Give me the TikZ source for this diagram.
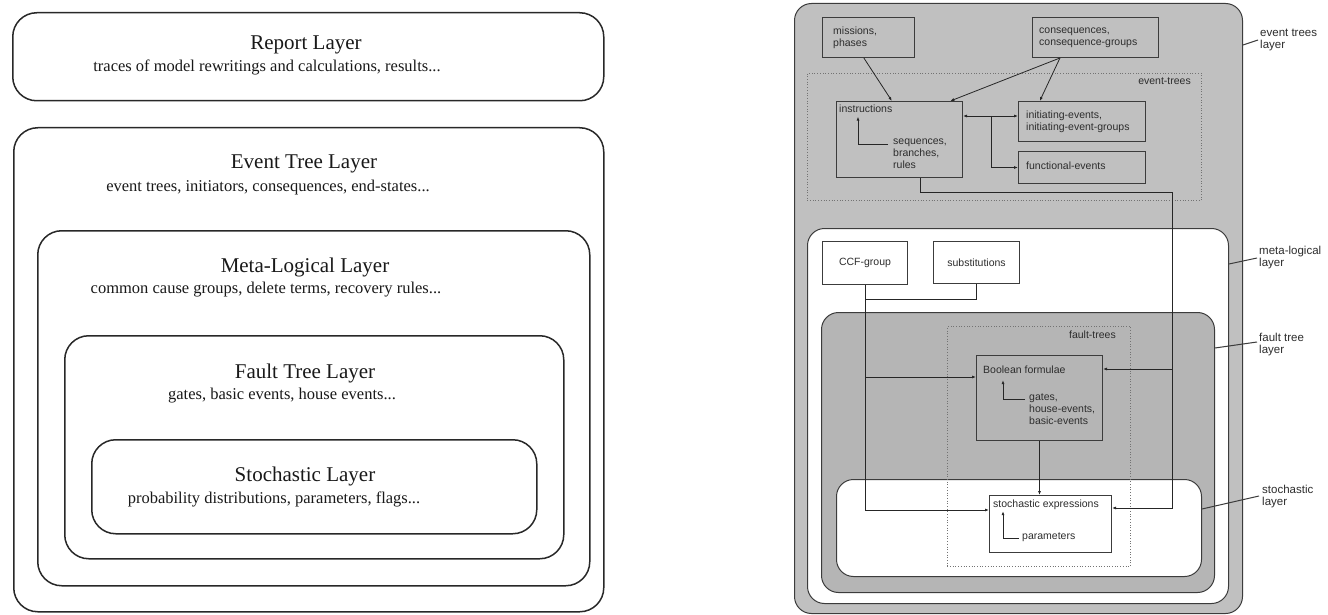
\documentclass[tikz,border=0pt]{standalone}
\usepackage{fontspec}
\setmainfont{Liberation Serif}
\newfontfamily\labelsans{Liberation Sans}
\usetikzlibrary{calc,arrows.meta}
\definecolor{lline}{RGB}{40,40,40}
\definecolor{rline}{RGB}{60,60,60}
\definecolor{outergray}{RGB}{192,192,192}
\definecolor{faultgray}{RGB}{181,181,181}
\definecolor{txt}{RGB}{25,25,25}
\definecolor{rtxt}{RGB}{45,45,45}
\definecolor{dotc}{RGB}{115,115,115}
\tikzset{
  layer/.style={draw=lline, line width=1.5pt, rounded corners=24pt, anchor=north west, inner sep=0pt, fill=white},
  ltitle/.style={anchor=base, text=txt, font=\fontsize{21}{24}\selectfont, inner sep=0pt},
  lsub/.style={anchor=base, text=txt, font=\fontsize{16.5}{20}\selectfont, inner sep=0pt},
  rlayer/.style={draw=rline, line width=1pt, rounded corners=17pt, anchor=north west, inner sep=0pt},
  rbox/.style={draw=rline, line width=1pt, anchor=north west, inner sep=0pt, text=rtxt, font=\labelsans\fontsize{10.5}{12}\selectfont},
  dotbox/.style={draw=dotc, dotted, line width=0.7pt, anchor=north west, inner sep=0pt},
  rtext/.style={anchor=north west, text=rtxt, font=\labelsans\fontsize{10.5}{11.8}\selectfont, inner sep=0pt, align=left},
  sidelabel/.style={anchor=north west, text=rtxt, font=\labelsans\fontsize{11.5}{12}\selectfont, inner sep=0pt, align=left},
  conn/.style={draw=black!85, line width=0.8pt},
  arr/.style={conn, -{Latex[length=4pt,width=3pt]}},
  darr/.style={conn, {Latex[length=4pt,width=3pt]}-{Latex[length=4pt,width=3pt]}},
  leader/.style={draw=rline, line width=1pt},
}
\begin{document}
\begin{tikzpicture}[x=1pt,y=-1pt]
\useasboundingbox[fill=white] (0,0) rectangle (1328,615);

% ---------------- left diagram ----------------
\node[layer, minimum width=591pt, minimum height=88pt] (report) at (12,12) {};
\node[layer, minimum width=590pt, minimum height=484pt] (event) at (13,127) {};
\node[layer, minimum width=552pt, minimum height=355pt] (meta) at (37,230) {};
\node[layer, minimum width=499pt, minimum height=223pt] (fault) at (64,335) {};
\node[layer, minimum width=445pt, minimum height=94pt] (stoch) at (91,439) {};

\node[ltitle] (reportT) at (306,50) {Report Layer};
\node[lsub] (reportS) at (267,72) {traces of model rewritings and calculations, results...};
\node[ltitle] (eventT) at (304,168) {Event Tree Layer};
\node[lsub] (eventS) at (268,191) {event trees, initiators, consequences, end-states...};
\node[ltitle] (metaT) at (305,272) {Meta-Logical Layer};
\node[lsub] (metaS) at (266,293) {common cause groups, delete terms, recovery rules...};
\node[ltitle] (faultT) at (305,378) {Fault Tree Layer};
\node[lsub] (faultS) at (282,399) {gates, basic events, house events...};
\node[ltitle] (stochT) at (305,481) {Stochastic Layer};
\node[lsub] (stochS) at (274,503) {probability distributions, parameters, flags...};

% ---------------- right diagram ----------------
\node[rlayer, fill=outergray, minimum width=448pt, minimum height=610pt] (etl) at (794,3) {};
\node[dotbox, minimum width=394pt, minimum height=127pt] (etdot) at (807,73) {};
\node[rbox, minimum width=92pt, minimum height=40pt] (missions) at (822,17) {};
\node[rbox, minimum width=126pt, minimum height=40pt] (cons) at (1032,17) {};
\node[rbox, minimum width=126pt, minimum height=76pt] (instr) at (836,101) {};
\node[rbox, minimum width=127pt, minimum height=40pt] (init) at (1018,101) {};
\node[rbox, minimum width=127pt, minimum height=32pt] (func) at (1018,151) {};

\node[rlayer, fill=white, minimum width=421pt, minimum height=375pt] (mll) at (807,228) {};
\node[rbox, minimum width=85pt, minimum height=43pt] (ccf) at (822,241) {CCF-group};
\node[rbox, minimum width=86pt, minimum height=42pt] (subs) at (933,241) {substitutions};

\node[rlayer, fill=faultgray, minimum width=393pt, minimum height=280pt] (ftl) at (821,312) {};
\node[rlayer, fill=white, minimum width=365pt, minimum height=97pt] (stl) at (836,479) {};
\node[dotbox, minimum width=183pt, minimum height=240pt] (ftdot) at (947,326) {};
\node[rbox, fill=faultgray, minimum width=126pt, minimum height=85pt] (bool) at (976,355) {};
\node[rbox, fill=white, minimum width=122pt, minimum height=57pt] (sexp) at (989,495) {};

% texts in the right diagram
\node[rtext] (missT) at (833,27) {missions,\\phases};
\node[rtext] (consT) at (1039,28) {consequences,\\consequence-groups};
\node[rtext, anchor=north east] (etdotT) at (1191,78) {event-trees};
\node[rtext] (instrT) at (839,105) {instructions};
\node[rtext] (seqT) at (893,139) {sequences,\\branches,\\rules};
\node[rtext] (initT) at (1026,111) {initiating-events,\\initiating-event-groups};
\node[rtext] (funcT) at (1026,162) {functional-events};
\node[rtext, anchor=north east] (ftdotT) at (1116,331) {fault-trees};
\node[rtext] (boolT) at (983,366) {Boolean formulae};
\node[rtext] (gatesT) at (1029,394) {gates,\\house-events,\\basic-events};
\node[rtext] (sexpT) at (993,500) {stochastic expressions};
\node[rtext] (parT) at (1022,533) {parameters};

% side labels
\node[sidelabel] (etlL) at (1260,29) {event trees\\layer};
\node[sidelabel] (mllL) at (1259,246) {meta-logical\\layer};
\node[sidelabel] (ftlL) at (1259,333) {fault tree\\layer};
\node[sidelabel] (stlL) at (1262,485) {stochastic\\layer};
\draw[leader] ($(etl.north east)+(0,42)$) -- ($(etlL.north west)+(-2,11)$);
\draw[leader] ($(mll.north east)+(0,36)$) -- ($(mllL.north west)+(-2,12)$);
\draw[leader] ($(ftl.north east)+(0,36)$) -- ($(ftlL.north west)+(-2,9)$);
\draw[leader] ($(stl.north east)+(0,30)$) -- ($(stlL.north west)+(-3,11)$);

% connectors
\draw[arr] ($(missions.south west)!0.45!(missions.south east)$) -- ($(instr.north west)!0.44!(instr.north east)$);
\coordinate (consout) at ($(cons.south west)!0.22!(cons.south east)$);
\draw[arr] (consout) -- ($(instr.north west)!0.9!(instr.north east)$);
\draw[arr] (consout) -- ($(init.north west)!0.17!(init.north east)$);
\draw[darr] ($(instr.north east)+(0,15)$) -- ($(init.north west)+(0,15)$);
\draw[arr] ($(instr.north east)+(28,15)$) |- (func.west);
\coordinate (rbus) at (1172,192);
\draw[arr] ($(instr.south west)+(84,0)$) |- (rbus) |- ($(sexp.north east)+(0,13)$);
\draw[arr] ($(rbus |- bool.north east)+(0,14)$) -- ($(bool.north east)+(0,14)$);
\draw[arr] (ccf.south) |- ($(sexp.north west)+(0,15)$);
\draw[conn] (subs.south) |- ($(ccf.south)+(0,14)$);
\coordinate (boolin) at ($(bool.north west)+(0,22)$);
\draw[arr] (ccf.south |- boolin) -- (boolin);
\draw[arr] (bool.south) -- (bool.south |- sexp.north);

% small inner arrows
\draw[arr] ($(seqT.north west)+(-5,5)$) -| ($(instrT.south west)+(19,3.5)$);
\draw[arr] ($(gatesT.north west)+(-4,5)$) -| ($(boolT.south west)+(20,6)$);
\draw[arr] ($(parT.north west)+(-3,5)$) -| ($(sexpT.south west)+(10,1)$);
\end{tikzpicture}
\end{document}
